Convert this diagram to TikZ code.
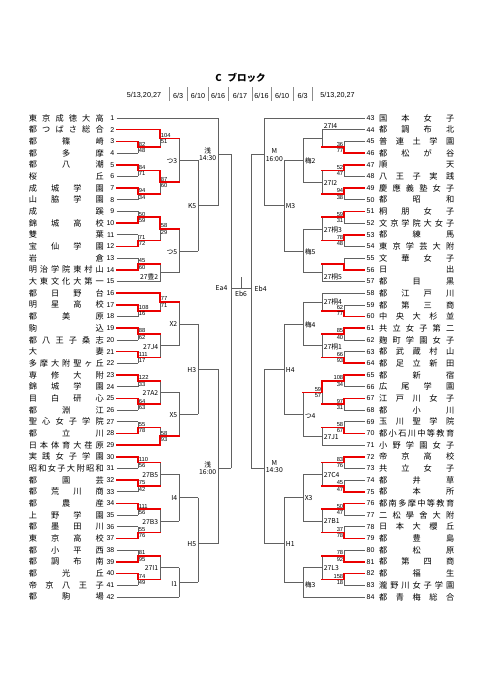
\documentclass[tikz,border=0pt]{standalone}
\usepackage{fontspec}
\setmainfont{Noto Sans CJK JP}
\newfontfamily\latf{Liberation Sans}
\pgfdeclarelayer{bg}
\pgfsetlayers{bg,main}
\tikzset{
  gl/.style={draw=black!62,line width=0.65pt},
  rl/.style={draw=red!92!black,line width=1.6pt,line cap=rect},
  sepl/.style={draw=black!45,line width=0.45pt},
  nm/.style={inner sep=0pt,font=\fontsize{8.2}{9}\selectfont},
  nu/.style={inner sep=0pt,font=\latf\fontsize{7}{8}\selectfont},
  sc/.style={inner sep=0pt,font=\latf\fontsize{5.8}{6}\selectfont},
  lb/.style={inner sep=0pt,font=\fontsize{6.8}{7.2}\selectfont,align=center},
  dt/.style={inner sep=0pt,font=\latf\fontsize{7.2}{8}\selectfont},
}
\newcommand\onbg[1]{\begin{pgfonlayer}{bg}#1\end{pgfonlayer}}
\newcommand\setL{\def\ro{1}\def\sg{1}\def\na{east}\def\ca{138}\def\cb{160}\def\cc{179}\def\cd{198}\def\ce{218}\def\cf{231}}
\newcommand\setR{\def\ro{43}\def\sg{-1}\def\na{west}\def\ca{344}\def\cb{322}\def\cc{303}\def\cd{284}\def\ce{264}\def\cf{251}}
\newcommand\LN[2]{\pgfmathsetmacro\yy{118+(#1-1)*11.68}%
  \node[nm,anchor=east] (T#1) at (104,\yy) {\makebox[75pt][s]{#2}};
  \node[nu,anchor=east] (N#1) at (114.5,\yy) {#1};}
\newcommand\RN[2]{\pgfmathsetmacro\yy{118+(#1-43)*11.68}%
  \node[nu,anchor=west] (N#1) at (366.5,\yy) {#1};
  \node[nm,anchor=west] (T#1) at (379,\yy) {\makebox[75pt][s]{#2}};}
\newcommand\leafg[2]{\pgfmathsetmacro\yl{118+(#1-\ro)*11.68}%
  \onbg{\draw[gl] ([xshift=\sg*2pt]N#1.\na) -- (#2,\yl);}}
\newcommand\leafr[2]{\pgfmathsetmacro\yl{118+(#1-\ro)*11.68}%
  \draw[rl] ([xshift=\sg*2.5pt]N#1.\na) -- (#2,\yl);}
\newcommand\SC[4]{%
  \ifnum\sg=1
    \node[sc,anchor=south west] at ([xshift=0.6pt,yshift=0.9pt]#1,#2) {#3};
    \node[sc,anchor=north west] at ([xshift=0.6pt,yshift=-1pt]#1,#2) {#4};
  \else
    \node[sc,anchor=south east] at ([xshift=-0.6pt,yshift=0.9pt]#1,#2) {#3};
    \node[sc,anchor=north east] at ([xshift=-0.6pt,yshift=-1pt]#1,#2) {#4};
  \fi}
\newcommand\FR[4]{%
  \pgfmathsetmacro\ya{118+(#1-\ro)*11.68}%
  \pgfmathsetmacro\yb{\ya+11.68}%
  \pgfmathsetmacro\ym{\ya+5.84}%
  \pgfmathtruncatemacro\rb{#1+1}%
  \onbg{\draw[gl] (\ca,\ya) -- (\ca,\yb);}
  \ifnum#2=1
    \onbg{\draw[gl] ([xshift=\sg*2pt]N\rb.\na) -- (\ca,\yb);}
    \draw[rl] ([xshift=\sg*2.5pt]N#1.\na) -- (\ca,\ya) -- (\ca,\ym) -- (\cb,\ym);
  \else
    \onbg{\draw[gl] ([xshift=\sg*2pt]N#1.\na) -- (\ca,\ya);}
    \draw[rl] ([xshift=\sg*2.5pt]N\rb.\na) -- (\ca,\yb) -- (\ca,\ym) -- (\cb,\ym);
  \fi
  \SC{\ca}{\ym}{#3}{#4}}
\newcommand\MT[6]{%
  \onbg{\draw[gl] (#1,#2) -- (#1,#3);}
  \ifcase#6 \onbg{\draw[gl] (#1,#4) -- (#5,#4);}
  \or \draw[rl] (#1,#2) -- (#1,#4) -- (#5,#4);
  \or \draw[rl] (#1,#3) -- (#1,#4) -- (#5,#4);
  \fi}
\newcommand\LB[4]{%
  \ifnum\sg=1 \node[lb,anchor=east] (#1) at ([xshift=-1.6pt]#2,#3) {#4};
  \else \node[lb,anchor=west] (#1) at ([xshift=1.6pt]#2,#3) {#4}; \fi}
\begin{document}
\begin{tikzpicture}[x=1pt,y=-1pt]
\useasboundingbox (0,0) rectangle (481,680);
\onbg{\fill[white] (0,0) rectangle (481,680);}
% title and dates
\node[font=\bfseries\fontsize{9.5}{10}\selectfont,inner sep=0pt] (title) at (240.5,78) {C\hspace{0.6em}ブロック};
\foreach \sx in {169,187.5,208.5,228,252,271,293.5,312}{\draw[sepl] (\sx,87) -- (\sx,101);}
\node[dt] (d1) at (144,95.5) {5/13,20,27};
\node[dt] (d2) at (178.2,95.5) {6/3};
\node[dt] (d3) at (198,95.5) {6/10};
\node[dt] (d4) at (218.2,95.5) {6/16};
\node[dt] (d5) at (240,95.5) {6/17};
\node[dt] (d6) at (261.5,95.5) {6/16};
\node[dt] (d7) at (282.2,95.5) {6/10};
\node[dt] (d8) at (302.7,95.5) {6/3};
\node[dt] (d9) at (337.5,95.5) {5/13,20,27};
% ---------------- left side ----------------
\setL
\LN{1}{東 京 成 徳 大 高}
\LN{2}{都 つ ば さ 総 合}
\LN{3}{都 篠 崎}
\LN{4}{都 多 摩}
\LN{5}{都 八 潮}
\LN{6}{桜 丘}
\LN{7}{成 城 学 園}
\LN{8}{山 脇 学 園}
\LN{9}{成 蹊}
\LN{10}{錦 城 高 校}
\LN{11}{雙 葉}
\LN{12}{宝 仙 学 園}
\LN{13}{岩 倉}
\LN{14}{明 治 学 院 東 村 山}
\LN{15}{大 東 文 化 大 第 一}
\LN{16}{都 日 野 台}
\LN{17}{明 星 高 校}
\LN{18}{都 美 原}
\LN{19}{駒 込}
\LN{20}{都 八 王 子 桑 志}
\LN{21}{大 妻}
\LN{22}{多 摩 大 附 聖 ヶ 丘}
\LN{23}{専 修 大 附}
\LN{24}{錦 城 学 園}
\LN{25}{目 白 研 心}
\LN{26}{都 淵 江}
\LN{27}{聖 心 女 子 学 院}
\LN{28}{都 立 川}
\LN{29}{日 本 体 育 大 荏 原}
\LN{30}{実 践 女 子 学 園}
\LN{31}{昭 和 女 子 大 附 昭 和}
\LN{32}{都 園 芸}
\LN{33}{都 荒 川 商}
\LN{34}{都 農 産}
\LN{35}{上 野 学 園}
\LN{36}{都 墨 田 川}
\LN{37}{東 京 高 校}
\LN{38}{都 小 平 西}
\LN{39}{都 調 布 南}
\LN{40}{都 光 丘}
\LN{41}{帝 京 八 王 子}
\LN{42}{都 駒 場}
\leafg{1}{\ce}
\leafr{2}{\cb}
\leafg{15}{\cb}
\leafr{16}{\cb}
\leafr{29}{\cb}
\leafg{42}{\cc}
\FR{3}{1}{82}{48}
\FR{5}{1}{84}{71}
\FR{7}{1}{94}{34}
\FR{9}{2}{50}{59}
\FR{11}{2}{71}{72}
\FR{13}{2}{45}{60}
\FR{17}{1}{108}{16}
\FR{19}{1}{88}{62}
\FR{21}{1}{111}{17}
\FR{23}{1}{122}{33}
\FR{25}{1}{64}{63}
\FR{27}{2}{55}{78}
\FR{30}{1}{110}{56}
\FR{32}{1}{75}{42}
\FR{34}{1}{111}{56}
\FR{36}{2}{55}{76}
\FR{38}{2}{81}{95}
\FR{40}{1}{74}{49}
\MT{\cb}{129.68}{147.20}{138.44}{\cc}{1}\SC{\cb}{138.44}{104}{51}
\MT{\cb}{170.56}{193.92}{182.24}{\cc}{1}\SC{\cb}{182.24}{87}{60}
\MT{\cb}{217.28}{240.64}{228.96}{\cc}{1}\SC{\cb}{228.96}{58}{29}
\MT{\cb}{264.00}{281.52}{272.76}{\cc}{0}\LB{la1}{\cb}{277}{27豊2}
\MT{\cb}{293.20}{310.72}{301.96}{\cc}{1}\SC{\cb}{301.96}{77}{71}
\MT{\cb}{334.08}{357.44}{345.76}{\cc}{0}\LB{la2}{\cb}{346.8}{27J4}
\MT{\cb}{380.80}{404.16}{392.48}{\cc}{0}\LB{la3}{\cb}{393.2}{27A2}
\MT{\cb}{427.52}{445.04}{436.28}{\cc}{2}\SC{\cb}{436.28}{58}{93}
\MT{\cb}{462.56}{485.92}{474.24}{\cc}{0}\LB{la4}{\cb}{475}{27B5}
\MT{\cb}{509.28}{532.64}{520.96}{\cc}{0}\LB{la5}{\cb}{521.7}{27B3}
\MT{\cb}{556.00}{579.36}{567.68}{\cc}{0}\LB{la6}{\cb}{568.4}{27I1}
\MT{\cc}{138.44}{182.24}{160.34}{\cd}{0}\LB{lb1}{\cc}{160.6}{つ3}
\MT{\cc}{228.96}{272.76}{250.86}{\cd}{0}\LB{lb2}{\cc}{252.5}{つ5}
\MT{\cc}{301.96}{345.76}{323.86}{\cd}{0}\LB{lb3}{\cc}{323.9}{X2}
\MT{\cc}{392.48}{436.28}{414.38}{\cd}{0}\LB{lb4}{\cc}{415.5}{X5}
\MT{\cc}{474.24}{520.96}{497.60}{\cd}{0}\LB{lb5}{\cc}{498}{I4}
\MT{\cc}{567.68}{596.88}{582.28}{\cd}{0}\LB{lb6}{\cc}{584}{I1}
\MT{\cd}{160.34}{250.86}{205.60}{\ce}{0}\LB{lc1}{\cd}{206}{K5}
\MT{\cd}{323.86}{414.38}{369.12}{\ce}{0}\LB{lc2}{\cd}{369.6}{H3}
\MT{\cd}{497.60}{582.28}{543.50}{\ce}{0}\LB{lc3}{\cd}{544.2}{H5}
\MT{\ce}{118}{205.60}{154}{\cf}{0}\LB{ld1}{\ce}{154.5}{浅\\14:30}
\MT{\ce}{369.12}{543.50}{468}{\cf}{0}\LB{ld2}{\ce}{468.5}{浅\\16:00}
\onbg{\draw[gl] (\cf,154) -- (\cf,468);}
\node[lb,anchor=east] (ea4) at (227.5,288.5) {Ea4};
% ---------------- right side ----------------
\setR
\RN{43}{国 本 女 子}
\RN{44}{都 調 布 北}
\RN{45}{普 連 土 学 園}
\RN{46}{都 松 が 谷}
\RN{47}{順 天}
\RN{48}{八 王 子 実 践}
\RN{49}{慶 應 義 塾 女 子}
\RN{50}{都 昭 和}
\RN{51}{桐 朋 女 子}
\RN{52}{文 京 学 院 大 女 子}
\RN{53}{都 練 馬}
\RN{54}{東 京 学 芸 大 附}
\RN{55}{文 華 女 子}
\RN{56}{日 出}
\RN{57}{都 目 黒}
\RN{58}{都 江 戸 川}
\RN{59}{都 第 三 商}
\RN{60}{中 央 大 杉 並}
\RN{61}{共 立 女 子 第 二}
\RN{62}{麹 町 学 園 女 子}
\RN{63}{都 武 蔵 村 山}
\RN{64}{都 足 立 新 田}
\RN{65}{都 新 宿}
\RN{66}{広 尾 学 園}
\RN{67}{江 戸 川 女 子}
\RN{68}{都 小 川}
\RN{69}{玉 川 聖 学 院}
\RN{70}{都 小 石 川 中 等 教 育}
\RN{71}{小 野 学 園 女 子}
\RN{72}{帝 京 高 校}
\RN{73}{共 立 女 子}
\RN{74}{都 井 草}
\RN{75}{都 本 所}
\RN{76}{都 南 多 摩 中 等 教 育}
\RN{77}{二 松 學 舍 大 附}
\RN{78}{日 本 大 櫻 丘}
\RN{79}{都 豊 島}
\RN{80}{都 松 原}
\RN{81}{都 第 四 商}
\RN{82}{都 福 生}
\RN{83}{瀧 野 川 女 子 学 園}
\RN{84}{都 青 梅 総 合}
\leafg{43}{\ce}
\leafg{44}{\cb}
\leafg{57}{\cb}
\leafg{58}{\cb}
\leafg{71}{\cb}
\leafg{84}{\cc}
\FR{45}{2}{36}{77}
\FR{47}{1}{52}{47}
\FR{49}{1}{94}{38}
\FR{51}{1}{59}{31}
\FR{53}{1}{78}{48}
\FR{55}{2}{}{}
\FR{59}{2}{62}{77}
\FR{61}{1}{85}{40}
\FR{63}{2}{66}{93}
\FR{65}{1}{108}{34}
\FR{67}{1}{97}{31}
\FR{69}{2}{58}{67}
\FR{72}{1}{83}{76}
\FR{74}{2}{45}{47}
\FR{76}{1}{50}{47}
\FR{78}{2}{37}{78}
\FR{80}{2}{78}{92}
\FR{82}{1}{158}{18}
\MT{\cb}{129.68}{147.20}{138.44}{\cc}{0}\LB{ra1}{\cb}{126.5}{27I4}
\MT{\cb}{170.56}{193.92}{182.24}{\cc}{0}\LB{ra2}{\cb}{183.3}{27I2}
\MT{\cb}{217.28}{240.64}{228.96}{\cc}{0}\LB{ra3}{\cb}{229.8}{27桐3}
\MT{\cb}{264.00}{281.52}{272.76}{\cc}{0}\LB{ra4}{\cb}{277}{27桐5}
\MT{\cb}{293.20}{310.72}{301.96}{\cc}{0}\LB{ra5}{\cb}{302.2}{27桐4}
\MT{\cb}{334.08}{357.44}{345.76}{\cc}{0}\LB{ra6}{\cb}{346.8}{27桐1}
\MT{\cb}{380.80}{404.16}{392.48}{\cc}{1}\SC{\cb}{392.48}{59}{57}
\MT{\cb}{427.52}{445.04}{436.28}{\cc}{0}\LB{ra7}{\cb}{437.5}{27J1}
\MT{\cb}{462.56}{485.92}{474.24}{\cc}{0}\LB{ra8}{\cb}{474.6}{27C4}
\MT{\cb}{509.28}{532.64}{520.96}{\cc}{0}\LB{ra9}{\cb}{521.5}{27B1}
\MT{\cb}{556.00}{579.36}{567.68}{\cc}{0}\LB{ra10}{\cb}{567.8}{27L3}
\MT{\cc}{138.44}{182.24}{160.34}{\cd}{0}\LB{rb1}{\cc}{160.6}{梅2}
\MT{\cc}{228.96}{272.76}{250.86}{\cd}{0}\LB{rb2}{\cc}{252.3}{梅5}
\MT{\cc}{301.96}{345.76}{323.86}{\cd}{0}\LB{rb3}{\cc}{324.5}{梅4}
\MT{\cc}{392.48}{436.28}{414.38}{\cd}{0}\LB{rb4}{\cc}{416}{つ4}
\MT{\cc}{474.24}{520.96}{497.60}{\cd}{0}\LB{rb5}{\cc}{498}{X3}
\MT{\cc}{567.68}{596.88}{582.28}{\cd}{0}\LB{rb6}{\cc}{585}{梅3}
\MT{\cd}{160.34}{250.86}{205.60}{\ce}{0}\LB{rc1}{\cd}{206.5}{M3}
\MT{\cd}{323.86}{414.38}{369.12}{\ce}{0}\LB{rc2}{\cd}{370.5}{H4}
\MT{\cd}{497.60}{582.28}{543.50}{\ce}{0}\LB{rc3}{\cd}{544.5}{H1}
\MT{\ce}{118}{205.60}{154}{\cf}{0}\LB{rd1}{\ce}{155}{M\\16:00}
\MT{\ce}{369.12}{543.50}{468}{\cf}{0}\LB{rd2}{\ce}{466.5}{M\\14:30}
\onbg{\draw[gl] (\cf,154) -- (\cf,468);}
\node[lb,anchor=west] (eb4) at (254.5,288.5) {Eb4};
% ---------------- centre ----------------
\coordinate (cl) at (231,288);
\coordinate (cr) at (251,288);
\coordinate (cm) at (241,288);
\coordinate (ct) at (241,277);
\onbg{\draw[gl] (cl) -- (cr); \draw[gl] (cm) -- (ct);}
\node[lb,anchor=north] (eb6) at (241,290.5) {Eb6};
\end{tikzpicture}
\end{document}
